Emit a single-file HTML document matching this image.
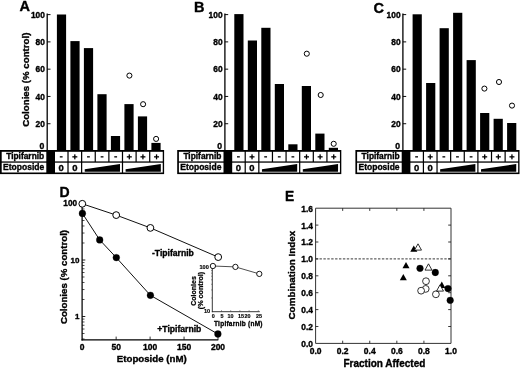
<!DOCTYPE html>
<html><head><meta charset="utf-8"><style>
html,body{margin:0;padding:0;background:#fff;}
svg{display:block;filter:grayscale(100%);font-family:"Liberation Sans",sans-serif;font-weight:bold;}
</style></head><body>
<svg width="520" height="369" viewBox="0 0 520 369" font-family="Liberation Sans, sans-serif" font-weight="bold" stroke-linejoin="round">
<rect width="520" height="369" fill="#fff"/>
<text x="19.60" y="11.10" font-size="14.5" text-anchor="start" stroke="#000" stroke-width="0.35" >A</text>
<line x1="47.20" y1="13.60" x2="47.20" y2="151.00" stroke="#000" stroke-width="1.3" />
<line x1="47.20" y1="14.60" x2="50.50" y2="14.60" stroke="#000" stroke-width="0.95" />
<text x="44.90" y="17.80" font-size="8.4" text-anchor="end" stroke="#000" stroke-width="0.35" >100</text>
<line x1="47.20" y1="41.88" x2="50.50" y2="41.88" stroke="#000" stroke-width="0.95" />
<text x="44.90" y="45.08" font-size="8.4" text-anchor="end" stroke="#000" stroke-width="0.35" >80</text>
<line x1="47.20" y1="69.16" x2="50.50" y2="69.16" stroke="#000" stroke-width="0.95" />
<text x="44.90" y="72.36" font-size="8.4" text-anchor="end" stroke="#000" stroke-width="0.35" >60</text>
<line x1="47.20" y1="96.44" x2="50.50" y2="96.44" stroke="#000" stroke-width="0.95" />
<text x="44.90" y="99.64" font-size="8.4" text-anchor="end" stroke="#000" stroke-width="0.35" >40</text>
<line x1="47.20" y1="123.72" x2="50.50" y2="123.72" stroke="#000" stroke-width="0.95" />
<text x="44.90" y="126.92" font-size="8.4" text-anchor="end" stroke="#000" stroke-width="0.35" >20</text>
<text x="44.40" y="148.90" font-size="8.7" text-anchor="end" stroke="#000" stroke-width="0.35" >0</text>
<text x="0" y="0" font-size="9.7" text-anchor="middle" stroke="#000" stroke-width="0.35" transform="translate(29.10,79.70) rotate(-90)">Colonies (% control)</text>
<rect x="56.90" y="14.50" width="9.20" height="136.50" fill="#000"/>
<rect x="70.40" y="41.10" width="9.20" height="109.90" fill="#000"/>
<rect x="83.90" y="48.10" width="9.20" height="102.90" fill="#000"/>
<rect x="97.40" y="94.20" width="9.20" height="56.80" fill="#000"/>
<rect x="110.90" y="136.00" width="9.20" height="15.00" fill="#000"/>
<rect x="124.40" y="104.10" width="9.20" height="46.90" fill="#000"/>
<rect x="137.90" y="116.40" width="9.20" height="34.60" fill="#000"/>
<rect x="151.40" y="142.90" width="9.20" height="8.10" fill="#000"/>
<circle cx="129.40" cy="75.60" r="2.55" fill="#fff" stroke="#000" stroke-width="1.0"/>
<circle cx="143.10" cy="104.20" r="2.55" fill="#fff" stroke="#000" stroke-width="1.0"/>
<circle cx="156.10" cy="138.90" r="2.55" fill="#fff" stroke="#000" stroke-width="1.0"/>
<rect x="0.00" y="150.00" width="164.10" height="24.10" fill="#000"/>
<rect x="1.70" y="151.80" width="44.60" height="9.60" fill="#fff"/>
<rect x="1.70" y="162.70" width="44.60" height="9.80" fill="#fff"/>
<text x="44.20" y="159.00" font-size="8.4" text-anchor="end" stroke="#000" stroke-width="0.35" >Tipifarnib</text>
<text x="44.20" y="170.40" font-size="8.5" text-anchor="end" stroke="#000" stroke-width="0.35" >Etoposide</text>
<rect x="55.00" y="151.80" width="12.40" height="9.60" fill="#fff"/>
<rect x="59.80" y="156.20" width="2.80" height="1.30" fill="#000"/>
<rect x="68.62" y="151.80" width="12.40" height="9.60" fill="#fff"/>
<rect x="72.32" y="156.20" width="5.00" height="1.30" fill="#000"/>
<rect x="74.17" y="154.35" width="1.30" height="5.00" fill="#000"/>
<rect x="82.24" y="151.80" width="12.40" height="9.60" fill="#fff"/>
<rect x="87.04" y="156.20" width="2.80" height="1.30" fill="#000"/>
<rect x="95.86" y="151.80" width="12.40" height="9.60" fill="#fff"/>
<rect x="100.66" y="156.20" width="2.80" height="1.30" fill="#000"/>
<rect x="109.48" y="151.80" width="12.40" height="9.60" fill="#fff"/>
<rect x="114.28" y="156.20" width="2.80" height="1.30" fill="#000"/>
<rect x="123.10" y="151.80" width="12.40" height="9.60" fill="#fff"/>
<rect x="126.80" y="156.20" width="5.00" height="1.30" fill="#000"/>
<rect x="128.65" y="154.35" width="1.30" height="5.00" fill="#000"/>
<rect x="136.72" y="151.80" width="12.40" height="9.60" fill="#fff"/>
<rect x="140.42" y="156.20" width="5.00" height="1.30" fill="#000"/>
<rect x="142.27" y="154.35" width="1.30" height="5.00" fill="#000"/>
<rect x="150.34" y="151.80" width="12.40" height="9.60" fill="#fff"/>
<rect x="154.04" y="156.20" width="5.00" height="1.30" fill="#000"/>
<rect x="155.89" y="154.35" width="1.30" height="5.00" fill="#000"/>
<rect x="55.00" y="162.70" width="12.40" height="9.80" fill="#fff"/>
<text x="61.20" y="171.00" font-size="9.5" text-anchor="middle" stroke="#000" stroke-width="0.35" >0</text>
<rect x="68.62" y="162.70" width="12.40" height="9.80" fill="#fff"/>
<text x="74.82" y="171.00" font-size="9.5" text-anchor="middle" stroke="#000" stroke-width="0.35" >0</text>
<rect x="82.24" y="162.70" width="39.64" height="9.80" fill="#fff"/>
<polygon points="84.74,169.30 119.98,164.10 119.98,171.80 84.74,171.80" fill="#000" stroke="none" stroke-width="0"/>
<rect x="123.10" y="162.70" width="39.64" height="9.80" fill="#fff"/>
<polygon points="125.60,169.30 160.84,164.10 160.84,171.80 125.60,171.80" fill="#000" stroke="none" stroke-width="0"/>
<text x="193.90" y="11.90" font-size="14.5" text-anchor="start" stroke="#000" stroke-width="0.35" >B</text>
<line x1="224.90" y1="13.60" x2="224.90" y2="151.00" stroke="#000" stroke-width="1.3" />
<line x1="224.90" y1="14.60" x2="228.20" y2="14.60" stroke="#000" stroke-width="0.95" />
<text x="222.60" y="17.80" font-size="8.4" text-anchor="end" stroke="#000" stroke-width="0.35" >100</text>
<line x1="224.90" y1="41.88" x2="228.20" y2="41.88" stroke="#000" stroke-width="0.95" />
<text x="222.60" y="45.08" font-size="8.4" text-anchor="end" stroke="#000" stroke-width="0.35" >80</text>
<line x1="224.90" y1="69.16" x2="228.20" y2="69.16" stroke="#000" stroke-width="0.95" />
<text x="222.60" y="72.36" font-size="8.4" text-anchor="end" stroke="#000" stroke-width="0.35" >60</text>
<line x1="224.90" y1="96.44" x2="228.20" y2="96.44" stroke="#000" stroke-width="0.95" />
<text x="222.60" y="99.64" font-size="8.4" text-anchor="end" stroke="#000" stroke-width="0.35" >40</text>
<line x1="224.90" y1="123.72" x2="228.20" y2="123.72" stroke="#000" stroke-width="0.95" />
<text x="222.60" y="126.92" font-size="8.4" text-anchor="end" stroke="#000" stroke-width="0.35" >20</text>
<text x="222.10" y="148.90" font-size="8.7" text-anchor="end" stroke="#000" stroke-width="0.35" >0</text>
<rect x="234.30" y="14.10" width="9.20" height="136.90" fill="#000"/>
<rect x="247.80" y="40.50" width="9.20" height="110.50" fill="#000"/>
<rect x="261.30" y="27.80" width="9.20" height="123.20" fill="#000"/>
<rect x="274.80" y="84.00" width="9.20" height="67.00" fill="#000"/>
<rect x="288.30" y="144.30" width="9.20" height="6.70" fill="#000"/>
<rect x="301.80" y="86.00" width="9.20" height="65.00" fill="#000"/>
<rect x="315.30" y="133.60" width="9.20" height="17.40" fill="#000"/>
<rect x="328.80" y="147.80" width="9.20" height="3.20" fill="#000"/>
<circle cx="306.80" cy="53.70" r="2.55" fill="#fff" stroke="#000" stroke-width="1.0"/>
<circle cx="320.70" cy="95.00" r="2.55" fill="#fff" stroke="#000" stroke-width="1.0"/>
<circle cx="333.70" cy="143.80" r="2.55" fill="#fff" stroke="#000" stroke-width="1.0"/>
<rect x="177.20" y="150.00" width="164.10" height="24.10" fill="#000"/>
<rect x="178.90" y="151.80" width="44.60" height="9.60" fill="#fff"/>
<rect x="178.90" y="162.70" width="44.60" height="9.80" fill="#fff"/>
<text x="221.40" y="159.00" font-size="8.4" text-anchor="end" stroke="#000" stroke-width="0.35" >Tipifarnib</text>
<text x="221.40" y="170.40" font-size="8.5" text-anchor="end" stroke="#000" stroke-width="0.35" >Etoposide</text>
<rect x="232.20" y="151.80" width="12.40" height="9.60" fill="#fff"/>
<rect x="237.00" y="156.20" width="2.80" height="1.30" fill="#000"/>
<rect x="245.82" y="151.80" width="12.40" height="9.60" fill="#fff"/>
<rect x="249.52" y="156.20" width="5.00" height="1.30" fill="#000"/>
<rect x="251.37" y="154.35" width="1.30" height="5.00" fill="#000"/>
<rect x="259.44" y="151.80" width="12.40" height="9.60" fill="#fff"/>
<rect x="264.24" y="156.20" width="2.80" height="1.30" fill="#000"/>
<rect x="273.06" y="151.80" width="12.40" height="9.60" fill="#fff"/>
<rect x="277.86" y="156.20" width="2.80" height="1.30" fill="#000"/>
<rect x="286.68" y="151.80" width="12.40" height="9.60" fill="#fff"/>
<rect x="291.48" y="156.20" width="2.80" height="1.30" fill="#000"/>
<rect x="300.30" y="151.80" width="12.40" height="9.60" fill="#fff"/>
<rect x="304.00" y="156.20" width="5.00" height="1.30" fill="#000"/>
<rect x="305.85" y="154.35" width="1.30" height="5.00" fill="#000"/>
<rect x="313.92" y="151.80" width="12.40" height="9.60" fill="#fff"/>
<rect x="317.62" y="156.20" width="5.00" height="1.30" fill="#000"/>
<rect x="319.47" y="154.35" width="1.30" height="5.00" fill="#000"/>
<rect x="327.54" y="151.80" width="12.40" height="9.60" fill="#fff"/>
<rect x="331.24" y="156.20" width="5.00" height="1.30" fill="#000"/>
<rect x="333.09" y="154.35" width="1.30" height="5.00" fill="#000"/>
<rect x="232.20" y="162.70" width="12.40" height="9.80" fill="#fff"/>
<text x="238.40" y="171.00" font-size="9.5" text-anchor="middle" stroke="#000" stroke-width="0.35" >0</text>
<rect x="245.82" y="162.70" width="12.40" height="9.80" fill="#fff"/>
<text x="252.02" y="171.00" font-size="9.5" text-anchor="middle" stroke="#000" stroke-width="0.35" >0</text>
<rect x="259.44" y="162.70" width="39.64" height="9.80" fill="#fff"/>
<polygon points="261.94,169.30 297.18,164.10 297.18,171.80 261.94,171.80" fill="#000" stroke="none" stroke-width="0"/>
<rect x="300.30" y="162.70" width="39.64" height="9.80" fill="#fff"/>
<polygon points="302.80,169.30 338.04,164.10 338.04,171.80 302.80,171.80" fill="#000" stroke="none" stroke-width="0"/>
<text x="373.50" y="13.20" font-size="14.5" text-anchor="start" stroke="#000" stroke-width="0.35" >C</text>
<line x1="402.90" y1="13.60" x2="402.90" y2="151.00" stroke="#000" stroke-width="1.3" />
<line x1="402.90" y1="14.60" x2="406.20" y2="14.60" stroke="#000" stroke-width="0.95" />
<text x="400.60" y="17.80" font-size="8.4" text-anchor="end" stroke="#000" stroke-width="0.35" >100</text>
<line x1="402.90" y1="41.88" x2="406.20" y2="41.88" stroke="#000" stroke-width="0.95" />
<text x="400.60" y="45.08" font-size="8.4" text-anchor="end" stroke="#000" stroke-width="0.35" >80</text>
<line x1="402.90" y1="69.16" x2="406.20" y2="69.16" stroke="#000" stroke-width="0.95" />
<text x="400.60" y="72.36" font-size="8.4" text-anchor="end" stroke="#000" stroke-width="0.35" >60</text>
<line x1="402.90" y1="96.44" x2="406.20" y2="96.44" stroke="#000" stroke-width="0.95" />
<text x="400.60" y="99.64" font-size="8.4" text-anchor="end" stroke="#000" stroke-width="0.35" >40</text>
<line x1="402.90" y1="123.72" x2="406.20" y2="123.72" stroke="#000" stroke-width="0.95" />
<text x="400.60" y="126.92" font-size="8.4" text-anchor="end" stroke="#000" stroke-width="0.35" >20</text>
<text x="400.10" y="148.90" font-size="8.7" text-anchor="end" stroke="#000" stroke-width="0.35" >0</text>
<rect x="412.60" y="14.30" width="9.20" height="136.70" fill="#000"/>
<rect x="426.10" y="83.00" width="9.20" height="68.00" fill="#000"/>
<rect x="439.60" y="28.20" width="9.20" height="122.80" fill="#000"/>
<rect x="453.10" y="12.80" width="9.20" height="138.20" fill="#000"/>
<rect x="466.60" y="60.10" width="9.20" height="90.90" fill="#000"/>
<rect x="480.10" y="113.00" width="9.20" height="38.00" fill="#000"/>
<rect x="493.60" y="118.80" width="9.20" height="32.20" fill="#000"/>
<rect x="507.10" y="123.00" width="9.20" height="28.00" fill="#000"/>
<circle cx="484.40" cy="88.60" r="2.55" fill="#fff" stroke="#000" stroke-width="1.0"/>
<circle cx="499.00" cy="82.00" r="2.55" fill="#fff" stroke="#000" stroke-width="1.0"/>
<circle cx="512.00" cy="105.60" r="2.55" fill="#fff" stroke="#000" stroke-width="1.0"/>
<rect x="355.40" y="150.00" width="164.10" height="24.10" fill="#000"/>
<rect x="357.10" y="151.80" width="44.60" height="9.60" fill="#fff"/>
<rect x="357.10" y="162.70" width="44.60" height="9.80" fill="#fff"/>
<text x="399.60" y="159.00" font-size="8.4" text-anchor="end" stroke="#000" stroke-width="0.35" >Tipifarnib</text>
<text x="399.60" y="170.40" font-size="8.5" text-anchor="end" stroke="#000" stroke-width="0.35" >Etoposide</text>
<rect x="410.40" y="151.80" width="12.40" height="9.60" fill="#fff"/>
<rect x="415.20" y="156.20" width="2.80" height="1.30" fill="#000"/>
<rect x="424.02" y="151.80" width="12.40" height="9.60" fill="#fff"/>
<rect x="427.72" y="156.20" width="5.00" height="1.30" fill="#000"/>
<rect x="429.57" y="154.35" width="1.30" height="5.00" fill="#000"/>
<rect x="437.64" y="151.80" width="12.40" height="9.60" fill="#fff"/>
<rect x="442.44" y="156.20" width="2.80" height="1.30" fill="#000"/>
<rect x="451.26" y="151.80" width="12.40" height="9.60" fill="#fff"/>
<rect x="456.06" y="156.20" width="2.80" height="1.30" fill="#000"/>
<rect x="464.88" y="151.80" width="12.40" height="9.60" fill="#fff"/>
<rect x="469.68" y="156.20" width="2.80" height="1.30" fill="#000"/>
<rect x="478.50" y="151.80" width="12.40" height="9.60" fill="#fff"/>
<rect x="482.20" y="156.20" width="5.00" height="1.30" fill="#000"/>
<rect x="484.05" y="154.35" width="1.30" height="5.00" fill="#000"/>
<rect x="492.12" y="151.80" width="12.40" height="9.60" fill="#fff"/>
<rect x="495.82" y="156.20" width="5.00" height="1.30" fill="#000"/>
<rect x="497.67" y="154.35" width="1.30" height="5.00" fill="#000"/>
<rect x="505.74" y="151.80" width="12.40" height="9.60" fill="#fff"/>
<rect x="509.44" y="156.20" width="5.00" height="1.30" fill="#000"/>
<rect x="511.29" y="154.35" width="1.30" height="5.00" fill="#000"/>
<rect x="410.40" y="162.70" width="12.40" height="9.80" fill="#fff"/>
<text x="416.60" y="171.00" font-size="9.5" text-anchor="middle" stroke="#000" stroke-width="0.35" >0</text>
<rect x="424.02" y="162.70" width="12.40" height="9.80" fill="#fff"/>
<text x="430.22" y="171.00" font-size="9.5" text-anchor="middle" stroke="#000" stroke-width="0.35" >0</text>
<rect x="437.64" y="162.70" width="39.64" height="9.80" fill="#fff"/>
<polygon points="440.14,169.30 475.38,164.10 475.38,171.80 440.14,171.80" fill="#000" stroke="none" stroke-width="0"/>
<rect x="478.50" y="162.70" width="39.64" height="9.80" fill="#fff"/>
<polygon points="481.00,169.30 516.24,164.10 516.24,171.80 481.00,171.80" fill="#000" stroke="none" stroke-width="0"/>
<text x="59.40" y="197.40" font-size="14.0" text-anchor="start" stroke="#000" stroke-width="0.35" >D</text>
<line x1="82.10" y1="203.50" x2="82.10" y2="340.40" stroke="#000" stroke-width="1.25" />
<line x1="81.50" y1="339.80" x2="218.30" y2="339.80" stroke="#000" stroke-width="1.25" />
<line x1="82.10" y1="203.50" x2="85.30" y2="203.50" stroke="#000" stroke-width="0.85" />
<line x1="82.10" y1="260.00" x2="85.30" y2="260.00" stroke="#000" stroke-width="0.85" />
<line x1="82.10" y1="316.50" x2="85.30" y2="316.50" stroke="#000" stroke-width="0.85" />
<line x1="82.10" y1="338.98" x2="84.50" y2="338.98" stroke="#000" stroke-width="0.7" />
<line x1="82.10" y1="333.51" x2="84.50" y2="333.51" stroke="#000" stroke-width="0.7" />
<line x1="82.10" y1="329.03" x2="84.50" y2="329.03" stroke="#000" stroke-width="0.7" />
<line x1="82.10" y1="325.25" x2="84.50" y2="325.25" stroke="#000" stroke-width="0.7" />
<line x1="82.10" y1="321.98" x2="84.50" y2="321.98" stroke="#000" stroke-width="0.7" />
<line x1="82.10" y1="319.09" x2="84.50" y2="319.09" stroke="#000" stroke-width="0.7" />
<line x1="82.10" y1="299.49" x2="84.50" y2="299.49" stroke="#000" stroke-width="0.7" />
<line x1="82.10" y1="289.54" x2="84.50" y2="289.54" stroke="#000" stroke-width="0.7" />
<line x1="82.10" y1="282.48" x2="84.50" y2="282.48" stroke="#000" stroke-width="0.7" />
<line x1="82.10" y1="277.01" x2="84.50" y2="277.01" stroke="#000" stroke-width="0.7" />
<line x1="82.10" y1="272.53" x2="84.50" y2="272.53" stroke="#000" stroke-width="0.7" />
<line x1="82.10" y1="268.75" x2="84.50" y2="268.75" stroke="#000" stroke-width="0.7" />
<line x1="82.10" y1="265.48" x2="84.50" y2="265.48" stroke="#000" stroke-width="0.7" />
<line x1="82.10" y1="262.59" x2="84.50" y2="262.59" stroke="#000" stroke-width="0.7" />
<line x1="82.10" y1="242.99" x2="84.50" y2="242.99" stroke="#000" stroke-width="0.7" />
<line x1="82.10" y1="233.04" x2="84.50" y2="233.04" stroke="#000" stroke-width="0.7" />
<line x1="82.10" y1="225.98" x2="84.50" y2="225.98" stroke="#000" stroke-width="0.7" />
<line x1="82.10" y1="220.51" x2="84.50" y2="220.51" stroke="#000" stroke-width="0.7" />
<line x1="82.10" y1="216.03" x2="84.50" y2="216.03" stroke="#000" stroke-width="0.7" />
<line x1="82.10" y1="212.25" x2="84.50" y2="212.25" stroke="#000" stroke-width="0.7" />
<line x1="82.10" y1="208.98" x2="84.50" y2="208.98" stroke="#000" stroke-width="0.7" />
<line x1="82.10" y1="206.09" x2="84.50" y2="206.09" stroke="#000" stroke-width="0.7" />
<line x1="116.15" y1="339.80" x2="116.15" y2="336.60" stroke="#000" stroke-width="0.8" />
<line x1="150.10" y1="339.80" x2="150.10" y2="336.60" stroke="#000" stroke-width="0.8" />
<line x1="184.05" y1="339.80" x2="184.05" y2="336.60" stroke="#000" stroke-width="0.8" />
<line x1="218.00" y1="339.80" x2="218.00" y2="336.60" stroke="#000" stroke-width="0.8" />
<text x="82.20" y="350.00" font-size="8.5" text-anchor="middle" stroke="#000" stroke-width="0.35" >0</text>
<text x="116.15" y="350.00" font-size="8.5" text-anchor="middle" stroke="#000" stroke-width="0.35" >50</text>
<text x="150.10" y="350.00" font-size="8.5" text-anchor="middle" stroke="#000" stroke-width="0.35" >100</text>
<text x="184.05" y="350.00" font-size="8.5" text-anchor="middle" stroke="#000" stroke-width="0.35" >150</text>
<text x="218.00" y="350.00" font-size="8.5" text-anchor="middle" stroke="#000" stroke-width="0.35" >200</text>
<text x="77.00" y="206.30" font-size="8.2" text-anchor="end" stroke="#000" stroke-width="0.35" >100</text>
<text x="79.50" y="262.90" font-size="8" text-anchor="end" stroke="#000" stroke-width="0.35" >10</text>
<text x="79.50" y="319.30" font-size="8" text-anchor="end" stroke="#000" stroke-width="0.35" >1</text>
<text x="0" y="0" font-size="9.7" text-anchor="middle" stroke="#000" stroke-width="0.35" transform="translate(66.50,277.00) rotate(-90)">Colonies (% control)</text>
<text x="116.80" y="361.60" font-size="9.7" text-anchor="start" stroke="#000" stroke-width="0.35" >Etoposide (nM)</text>
<text x="152.00" y="256.30" font-size="8.6" text-anchor="start" stroke="#000" stroke-width="0.35" >-Tipifarnib</text>
<text x="157.30" y="332.40" font-size="8.6" text-anchor="start" stroke="#000" stroke-width="0.35" >+Tipifarnib</text>
<polyline points="82.30,203.80 116.20,215.10 150.40,227.90 218.20,257.10" fill="none" stroke="#111" stroke-width="1.0"/>
<polyline points="82.40,213.40 99.70,239.90 116.30,257.60 150.40,295.30 217.90,334.00" fill="none" stroke="#111" stroke-width="1.0"/>
<rect x="206.3" y="263" width="60" height="50" fill="#fff"/>
<line x1="212.30" y1="266.00" x2="212.30" y2="312.20" stroke="#222" stroke-width="0.9" />
<line x1="211.90" y1="311.70" x2="259.80" y2="311.70" stroke="#222" stroke-width="0.9" />
<line x1="211.10" y1="297.97" x2="212.30" y2="297.97" stroke="#444" stroke-width="0.6" />
<line x1="211.10" y1="289.94" x2="212.30" y2="289.94" stroke="#444" stroke-width="0.6" />
<line x1="211.10" y1="284.25" x2="212.30" y2="284.25" stroke="#444" stroke-width="0.6" />
<line x1="211.10" y1="279.83" x2="212.30" y2="279.83" stroke="#444" stroke-width="0.6" />
<line x1="211.10" y1="276.22" x2="212.30" y2="276.22" stroke="#444" stroke-width="0.6" />
<line x1="211.10" y1="273.16" x2="212.30" y2="273.16" stroke="#444" stroke-width="0.6" />
<line x1="211.10" y1="270.52" x2="212.30" y2="270.52" stroke="#444" stroke-width="0.6" />
<line x1="211.10" y1="268.19" x2="212.30" y2="268.19" stroke="#444" stroke-width="0.6" />
<line x1="221.50" y1="311.70" x2="221.50" y2="310.20" stroke="#444" stroke-width="0.6" />
<line x1="230.70" y1="311.70" x2="230.70" y2="310.20" stroke="#444" stroke-width="0.6" />
<line x1="239.90" y1="311.70" x2="239.90" y2="310.20" stroke="#444" stroke-width="0.6" />
<line x1="249.10" y1="311.70" x2="249.10" y2="310.20" stroke="#444" stroke-width="0.6" />
<line x1="258.30" y1="311.70" x2="258.30" y2="310.20" stroke="#444" stroke-width="0.6" />
<text x="213.30" y="317.90" font-size="5.4" text-anchor="middle" stroke="#000" stroke-width="0.15" >0</text>
<text x="222.10" y="317.90" font-size="5.4" text-anchor="middle" stroke="#000" stroke-width="0.15" >5</text>
<text x="230.60" y="317.90" font-size="5.4" text-anchor="middle" stroke="#000" stroke-width="0.15" >10</text>
<text x="241.00" y="317.90" font-size="5.4" text-anchor="middle" stroke="#000" stroke-width="0.15" >15</text>
<text x="247.60" y="317.90" font-size="5.4" text-anchor="middle" stroke="#000" stroke-width="0.15" >20</text>
<text x="258.90" y="317.90" font-size="5.4" text-anchor="middle" stroke="#000" stroke-width="0.15" >25</text>
<text x="208.80" y="268.80" font-size="5.6" text-anchor="end" stroke="#000" stroke-width="0.15" >100</text>
<text x="210.20" y="313.30" font-size="5.6" text-anchor="end" stroke="#000" stroke-width="0.15" >10</text>
<text x="214.00" y="326.00" font-size="6.5" text-anchor="start" stroke="#000" stroke-width="0.3" textLength="48.5" lengthAdjust="spacing">Tipifarnib (nM)</text>
<text x="0" y="0" font-size="7.0" text-anchor="middle" stroke="#000" stroke-width="0.25" transform="translate(196.00,291.00) rotate(-90)">Colonies</text>
<text x="0" y="0" font-size="7.2" text-anchor="middle" stroke="#000" stroke-width="0.25" transform="translate(203.00,290.50) rotate(-90)">(% control)</text>
<polyline points="212.9,266.0 235.4,266.9 259.3,273.9" fill="none" stroke="#222" stroke-width="0.8"/>
<circle cx="212.90" cy="266.00" r="2.65" fill="#fff" stroke="#000" stroke-width="0.9"/>
<circle cx="235.40" cy="266.90" r="2.65" fill="#fff" stroke="#000" stroke-width="0.9"/>
<circle cx="259.30" cy="273.90" r="2.65" fill="#fff" stroke="#000" stroke-width="0.9"/>
<circle cx="82.30" cy="203.80" r="3.4" fill="#fff" stroke="#000" stroke-width="1.0"/>
<circle cx="116.20" cy="215.10" r="3.4" fill="#fff" stroke="#000" stroke-width="1.0"/>
<circle cx="150.40" cy="227.90" r="3.4" fill="#fff" stroke="#000" stroke-width="1.0"/>
<circle cx="218.20" cy="257.10" r="3.4" fill="#fff" stroke="#000" stroke-width="1.0"/>
<circle cx="82.40" cy="213.40" r="3.4" fill="#000" stroke="#000" stroke-width="0.3"/>
<circle cx="99.70" cy="239.90" r="3.4" fill="#000" stroke="#000" stroke-width="0.3"/>
<circle cx="116.30" cy="257.60" r="3.4" fill="#000" stroke="#000" stroke-width="0.3"/>
<circle cx="150.40" cy="295.30" r="3.4" fill="#000" stroke="#000" stroke-width="0.3"/>
<circle cx="217.90" cy="334.00" r="3.4" fill="#000" stroke="#000" stroke-width="0.3"/>
<text x="285.00" y="200.60" font-size="13.8" text-anchor="start" stroke="#000" stroke-width="0.35" >E</text>
<rect x="315.6" y="208.2" width="135.40" height="135.20" fill="none" stroke="#333" stroke-width="1"/>
<line x1="315.60" y1="326.50" x2="318.40" y2="326.50" stroke="#222" stroke-width="0.9" />
<line x1="451.00" y1="326.50" x2="448.20" y2="326.50" stroke="#222" stroke-width="0.9" />
<line x1="315.60" y1="309.60" x2="318.40" y2="309.60" stroke="#222" stroke-width="0.9" />
<line x1="451.00" y1="309.60" x2="448.20" y2="309.60" stroke="#222" stroke-width="0.9" />
<line x1="315.60" y1="292.70" x2="318.40" y2="292.70" stroke="#222" stroke-width="0.9" />
<line x1="451.00" y1="292.70" x2="448.20" y2="292.70" stroke="#222" stroke-width="0.9" />
<line x1="315.60" y1="275.80" x2="318.40" y2="275.80" stroke="#222" stroke-width="0.9" />
<line x1="451.00" y1="275.80" x2="448.20" y2="275.80" stroke="#222" stroke-width="0.9" />
<line x1="315.60" y1="258.90" x2="318.40" y2="258.90" stroke="#222" stroke-width="0.9" />
<line x1="451.00" y1="258.90" x2="448.20" y2="258.90" stroke="#222" stroke-width="0.9" />
<line x1="315.60" y1="242.00" x2="318.40" y2="242.00" stroke="#222" stroke-width="0.9" />
<line x1="451.00" y1="242.00" x2="448.20" y2="242.00" stroke="#222" stroke-width="0.9" />
<line x1="315.60" y1="225.10" x2="318.40" y2="225.10" stroke="#222" stroke-width="0.9" />
<line x1="451.00" y1="225.10" x2="448.20" y2="225.10" stroke="#222" stroke-width="0.9" />
<line x1="342.68" y1="343.40" x2="342.68" y2="340.70" stroke="#222" stroke-width="0.9" />
<line x1="342.68" y1="208.20" x2="342.68" y2="210.90" stroke="#222" stroke-width="0.9" />
<line x1="369.76" y1="343.40" x2="369.76" y2="340.70" stroke="#222" stroke-width="0.9" />
<line x1="369.76" y1="208.20" x2="369.76" y2="210.90" stroke="#222" stroke-width="0.9" />
<line x1="396.84" y1="343.40" x2="396.84" y2="340.70" stroke="#222" stroke-width="0.9" />
<line x1="396.84" y1="208.20" x2="396.84" y2="210.90" stroke="#222" stroke-width="0.9" />
<line x1="423.92" y1="343.40" x2="423.92" y2="340.70" stroke="#222" stroke-width="0.9" />
<line x1="423.92" y1="208.20" x2="423.92" y2="210.90" stroke="#222" stroke-width="0.9" />
<text x="313.00" y="346.80" font-size="8.4" text-anchor="end" stroke="#000" stroke-width="0.35" >0.0</text>
<text x="313.00" y="329.90" font-size="8.4" text-anchor="end" stroke="#000" stroke-width="0.35" >0.2</text>
<text x="313.00" y="313.00" font-size="8.4" text-anchor="end" stroke="#000" stroke-width="0.35" >0.4</text>
<text x="313.00" y="296.10" font-size="8.4" text-anchor="end" stroke="#000" stroke-width="0.35" >0.6</text>
<text x="313.00" y="279.20" font-size="8.4" text-anchor="end" stroke="#000" stroke-width="0.35" >0.8</text>
<text x="313.00" y="262.30" font-size="8.4" text-anchor="end" stroke="#000" stroke-width="0.35" >1.0</text>
<text x="313.00" y="245.40" font-size="8.4" text-anchor="end" stroke="#000" stroke-width="0.35" >1.2</text>
<text x="313.00" y="228.50" font-size="8.4" text-anchor="end" stroke="#000" stroke-width="0.35" >1.4</text>
<text x="313.00" y="211.60" font-size="8.4" text-anchor="end" stroke="#000" stroke-width="0.35" >1.6</text>
<text x="315.60" y="354.00" font-size="8.5" text-anchor="middle" stroke="#000" stroke-width="0.35" >0.0</text>
<text x="342.68" y="354.00" font-size="8.5" text-anchor="middle" stroke="#000" stroke-width="0.35" >0.2</text>
<text x="369.76" y="354.00" font-size="8.5" text-anchor="middle" stroke="#000" stroke-width="0.35" >0.4</text>
<text x="396.84" y="354.00" font-size="8.5" text-anchor="middle" stroke="#000" stroke-width="0.35" >0.6</text>
<text x="423.92" y="354.00" font-size="8.5" text-anchor="middle" stroke="#000" stroke-width="0.35" >0.8</text>
<text x="451.00" y="354.00" font-size="8.5" text-anchor="middle" stroke="#000" stroke-width="0.35" >1.0</text>
<line x1="315.60" y1="258.90" x2="451.00" y2="258.90" stroke="#222" stroke-width="0.9" stroke-dasharray="2.4 1.5"/>
<text x="384.40" y="367.00" font-size="10.0" text-anchor="middle" stroke="#000" stroke-width="0.35" >Fraction Affected</text>
<text x="0" y="0" font-size="9.9" text-anchor="middle" stroke="#000" stroke-width="0.35" transform="translate(295.20,275.10) rotate(-90)">Combination Index</text>
<circle cx="426.00" cy="281.20" r="3.4" fill="#fff" stroke="#000" stroke-width="0.8"/>
<circle cx="425.70" cy="288.90" r="3.4" fill="#fff" stroke="#000" stroke-width="0.8"/>
<circle cx="421.10" cy="290.70" r="3.4" fill="#fff" stroke="#000" stroke-width="0.8"/>
<circle cx="435.90" cy="294.30" r="3.4" fill="#fff" stroke="#000" stroke-width="0.8"/>
<polygon points="413.80,245.52 417.30,251.82 410.30,251.82" fill="#000" stroke="none" stroke-width="0"/>
<polygon points="418.00,243.82 421.50,250.12 414.50,250.12" fill="#fff" stroke="#000" stroke-width="0.8"/>
<polygon points="406.00,262.02 409.50,268.32 402.50,268.32" fill="#000" stroke="none" stroke-width="0"/>
<polygon points="403.30,273.92 406.80,280.22 399.80,280.22" fill="#000" stroke="none" stroke-width="0"/>
<polygon points="428.50,263.82 432.00,270.12 425.00,270.12" fill="#fff" stroke="#000" stroke-width="0.8"/>
<polygon points="441.80,281.62 445.30,287.92 438.30,287.92" fill="#000" stroke="none" stroke-width="0"/>
<polygon points="440.00,284.82 443.50,291.12 436.50,291.12" fill="#fff" stroke="#000" stroke-width="0.8"/>
<circle cx="420.00" cy="268.30" r="3.4" fill="#000" stroke="#000" stroke-width="0.2"/>
<circle cx="435.30" cy="272.50" r="3.4" fill="#000" stroke="#000" stroke-width="0.2"/>
<circle cx="448.00" cy="288.60" r="3.4" fill="#000" stroke="#000" stroke-width="0.2"/>
<circle cx="450.20" cy="300.30" r="3.4" fill="#000" stroke="#000" stroke-width="0.2"/>
</svg>
</body></html>
